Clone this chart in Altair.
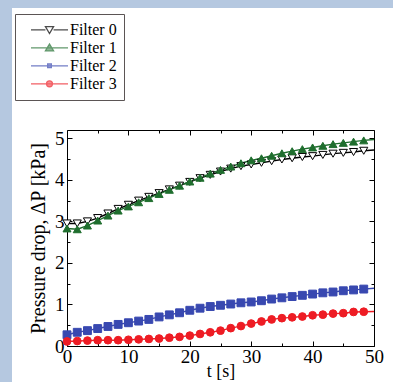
import altair as alt
import pandas as pd

# ---- data -------------------------------------------------------------
T = [0, 1.67, 3.33, 5, 6.67, 8.33, 10, 11.67, 13.33, 15, 16.67, 18.33, 20,
     21.67, 23.33, 25, 26.67, 28.33, 30, 31.67, 33.33, 35, 36.67, 38.33, 40,
     41.67, 43.33, 45, 46.67, 48.33, 50]
filter0 = [2.95, 2.95, 3.00, 3.08, 3.19, 3.30, 3.40, 3.50, 3.59, 3.68, 3.77,
           3.86, 3.95, 4.04, 4.12, 4.20, 4.27, 4.33, 4.37, 4.41, 4.45, 4.49,
           4.52, 4.55, 4.57, 4.60, 4.63, 4.65, 4.67, 4.70, 4.72]
filter1 = [2.83, 2.81, 2.90, 3.02, 3.14, 3.26, 3.36, 3.46, 3.56, 3.66, 3.76,
           3.86, 3.96, 4.05, 4.15, 4.24, 4.32, 4.40, 4.47, 4.52, 4.58, 4.64,
           4.69, 4.74, 4.78, 4.82, 4.86, 4.89, 4.92, 4.95, 4.97]
filter2 = [0.27, 0.33, 0.37, 0.42, 0.47, 0.52, 0.56, 0.60, 0.64, 0.70, 0.75,
           0.80, 0.86, 0.91, 0.95, 0.98, 1.01, 1.04, 1.06, 1.09, 1.13, 1.16,
           1.19, 1.22, 1.25, 1.28, 1.30, 1.33, 1.35, 1.37, 1.39]
filter3 = [0.11, 0.12, 0.13, 0.14, 0.14, 0.14, 0.15, 0.16, 0.17, 0.18, 0.20,
           0.22, 0.25, 0.29, 0.33, 0.37, 0.43, 0.48, 0.54, 0.59, 0.64, 0.67,
           0.69, 0.71, 0.74, 0.755, 0.78, 0.79, 0.82, 0.825, 0.83]

SERIES = ["Filter 0", "Filter 1", "Filter 2", "Filter 3"]
LINE_COLORS = ["#000000", "#1f6e2e", "#3848b0", "#ee1c24"]
FILL_COLORS = ["#ffffff", "#1f6e2e", "#3848b0", "#ee1c24"]
SHAPES = ["triangle-down", "triangle-up", "square", "circle"]
SIZES = [66, 60, 16, 44]
# legend symbols: line segment with marker
LEGEND_SHAPES = [
    "M-1,0H-0.22M0.22,0H1M-0.22,-0.17H0.22L0,0.2Z",
    "M-1,0H1M-0.22,0.17H0.22L0,-0.2Z",
    "M-1,0H1M-0.1,-0.1H0.1V0.1H-0.1Z",
    "M-1,0H1M-0.16,0A0.16,0.16 0 1,0 0.16,0A0.16,0.16 0 1,0 -0.16,0Z",
]

df = pd.DataFrame({"t": T, "Filter 0": filter0, "Filter 1": filter1,
                   "Filter 2": filter2, "Filter 3": filter3})
long = df.melt(id_vars="t", var_name="series", value_name="value")

SERIF = "Liberation Serif"
BLUE_BG = "#b5c8e0"

xs = alt.Scale(domain=[0, 50], nice=False, zero=False)
ys = alt.Scale(domain=[0, 5.2], nice=False, zero=False)


def tick_axis(orient, values, size):
    return alt.Axis(orient=orient, values=values, labels=False, domain=False,
                    grid=False, ticks=True, tickSize=size, offset=-size,
                    tickColor="black", tickWidth=1, title=None)


X_MAJOR = [0, 10, 20, 30, 40, 50]
X_MINOR = [5, 15, 25, 35, 45]
Y_MAJOR = [0, 1, 2, 3, 4, 5]
Y_MINOR = [0.5, 1.5, 2.5, 3.5, 4.5]

base = alt.Chart(long)

lines = base.mark_line(strokeWidth=1.4).encode(
    x=alt.X("t:Q", scale=xs, axis=alt.Axis(
        orient="bottom", values=X_MAJOR, ticks=False, tickSize=0, domain=False,
        grid=False, labelFont=SERIF, labelFontSize=19, labelColor="black",
        labelPadding=1, labelFlush=False, title="t [s]", titleFont=SERIF,
        titleFontSize=18, titleFontWeight="normal", titleColor="black",
        titlePadding=-4)),
    y=alt.Y("value:Q", scale=ys, axis=alt.Axis(
        orient="left", values=Y_MAJOR, ticks=False, tickSize=0, domain=False,
        grid=False, labelFont=SERIF, labelFontSize=19, labelColor="black",
        labelPadding=3, labelFlush=False, title="Pressure drop,  ΔP [kPa]",
        titleFont=SERIF, titleFontSize=20, titleFontWeight="normal",
        titleColor="black", titlePadding=6)),
    stroke=alt.Stroke("series:N", scale=alt.Scale(domain=SERIES, range=LINE_COLORS), legend=None),
    detail="series:N",
)

points = base.transform_filter("datum.t < 49").mark_point(
    filled=False, strokeWidth=1, opacity=1).encode(
    x=alt.X("t:Q", scale=xs, axis=tick_axis("bottom", X_MAJOR, 5)),
    y=alt.Y("value:Q", scale=ys, axis=tick_axis("left", Y_MAJOR, 5)),
    shape=alt.Shape("series:N", scale=alt.Scale(domain=SERIES, range=SHAPES), legend=None),
    fill=alt.Fill("series:N", scale=alt.Scale(domain=SERIES, range=FILL_COLORS), legend=None),
    stroke=alt.Stroke("series:N", scale=alt.Scale(domain=SERIES, range=LINE_COLORS), legend=None),
    size=alt.Size("series:N", scale=alt.Scale(domain=SERIES, range=SIZES), legend=None),
)


def legend():
    return alt.Legend(
        orient="none", legendX=-52, legendY=-116, title=None,
        labelFont=SERIF, labelFontSize=16, labelColor="black", labelOffset=1,
        labelExpr="datum.label + '\u2003\u2003'",
        symbolSize=1369, symbolStrokeWidth=1.3, clipHeight=17.6, rowPadding=0,
        padding=7, symbolOffset=8, strokeColor="#5b5555", fillColor="white")


legend_layer = base.transform_filter("false").mark_point(
    filled=False, strokeWidth=1.3, size=1369).encode(
    x=alt.X("t:Q", scale=xs, axis=tick_axis("top", X_MAJOR, 5)),
    y=alt.Y("value:Q", scale=ys, axis=tick_axis("right", Y_MAJOR, 5)),
    shape=alt.Shape("series:N", scale=alt.Scale(domain=SERIES, range=LEGEND_SHAPES), legend=legend()),
    fill=alt.Fill("series:N", scale=alt.Scale(domain=SERIES, range=FILL_COLORS), legend=legend()),
    stroke=alt.Stroke("series:N", scale=alt.Scale(domain=SERIES, range=LINE_COLORS), legend=legend()),
)

minor_a = base.transform_filter("false").mark_point().encode(
    x=alt.X("t:Q", scale=xs, axis=tick_axis("bottom", X_MINOR, 3)),
    y=alt.Y("value:Q", scale=ys, axis=tick_axis("left", Y_MINOR, 3)),
)
minor_b = base.transform_filter("false").mark_point().encode(
    x=alt.X("t:Q", scale=xs, axis=tick_axis("top", X_MINOR, 3)),
    y=alt.Y("value:Q", scale=ys, axis=tick_axis("right", Y_MINOR, 3)),
)

main = alt.layer(lines, points, legend_layer, minor_a, minor_b).resolve_axis(
    x="independent", y="independent").resolve_scale(
    shape="independent", fill="independent", stroke="independent").properties(
    width=307, height=216,
    view=alt.ViewBackground(stroke="black", strokeWidth=1, fill="white"))


def spacer(w, h, color):
    return alt.Chart(pd.DataFrame({"a": [0]})).transform_filter("false").mark_point().properties(
        width=w, height=h,
        view=alt.ViewBackground(fill=color, stroke="transparent", strokeWidth=0))


top_strip = spacer(393, 8, BLUE_BG)
left_strip = spacer(12, 374, BLUE_BG)
gap_left = spacer(2, 1, "white")
gap_top = spacer(1, 5, "white")

col = alt.vconcat(gap_top, main, spacing=0)
row = alt.hconcat(left_strip, gap_left, col, spacing=0)
chart = alt.vconcat(top_strip, row, spacing=0).properties(
    padding=0, background="white").configure_concat(spacing=0).configure(
    font=SERIF).configure_legend(labelFont=SERIF).configure_axis(
    labelFont=SERIF, titleFont=SERIF)

chart.save("out.html", embed_options={"renderer": "svg", "actions": False})
